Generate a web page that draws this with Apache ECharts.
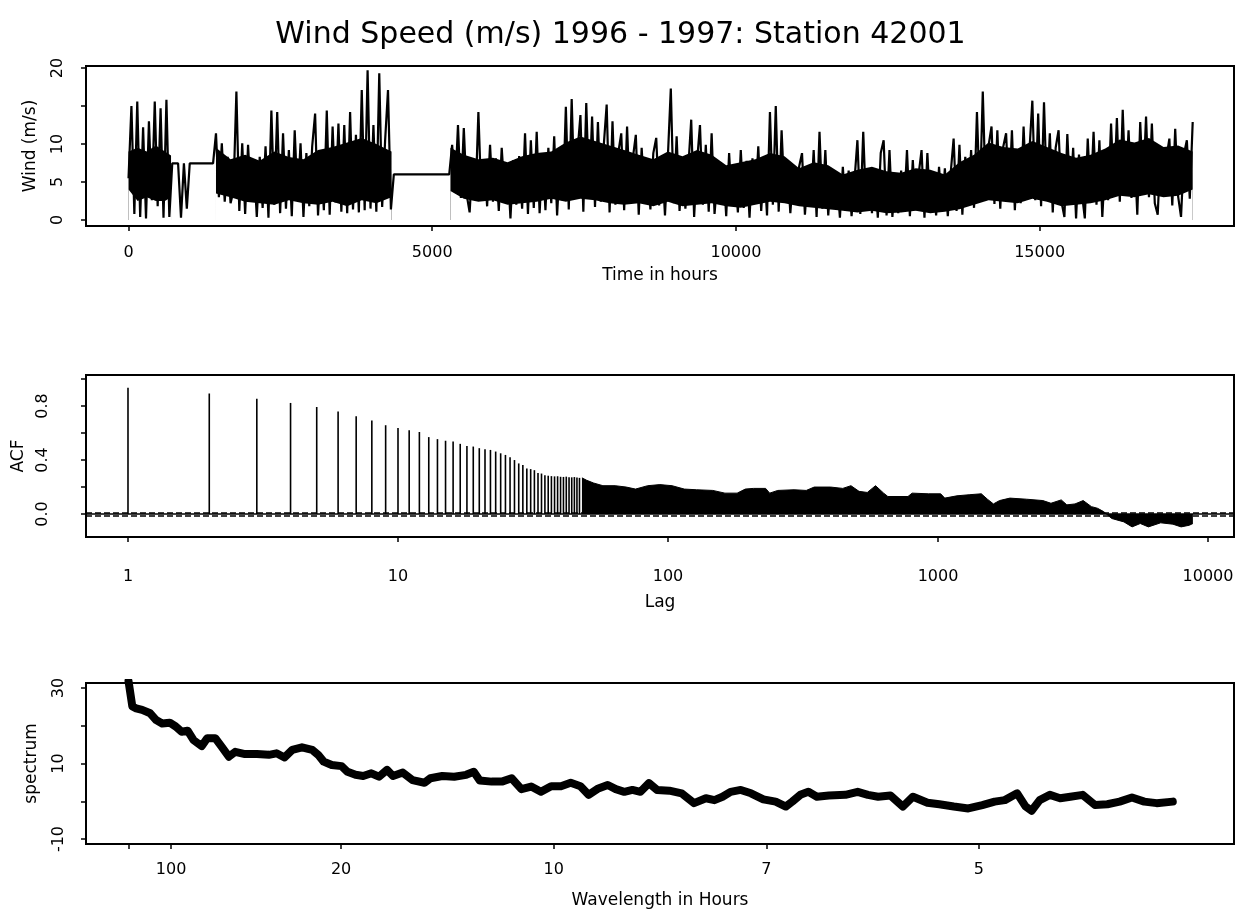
<!DOCTYPE html>
<html>
<head>
<meta charset="utf-8">
<title>Wind Speed (m/s) 1996 - 1997: Station 42001</title>
<script src="https://cdn.jsdelivr.net/npm/echarts@6/dist/echarts.min.js"></script>
<style>
  html, body { margin: 0; padding: 0; background: #fff; }
  #canvas { width: 1241px; height: 913px; }
</style>
</head>
<body>
<div id="canvas"></div>
<script>
/* eslint-disable no-undef */
// wind speed (m/s), one reading every 48 hours
const windStep = 48;
const windSpeed = [
  // 0 - 672 h
  5.5, 15.0, 0.8, 15.6, 0.4, 12.2, 0.2, 13.0, 2.6, 15.6, 1.8, 14.7, 0.3, 15.8, 0.4,
  // 720 - 1392 h, flat stretch
  7.45, 7.45, 7.45, 0.3, 7.45, 1.5, 7.45, 7.45, 7.45, 7.45, 7.45, 7.45, 7.45, 7.45, 7.45,
  // 1440 - 4320 h
  11.4, 3.0, 10.1, 2.4, 8.3, 2.2, 3.8, 16.9, 1.2, 10.1,
  0.8, 9.9, 2.4, 7.5, 0.4, 8.3, 1.6, 9.7, 0.3, 14.4,
  2.0, 14.2, 0.9, 11.4, 1.5, 9.2, 0.5, 11.8, 2.6, 10.1,
  0.4, 8.8, 1.8, 9.7, 14.0, 0.6, 8.3, 1.3, 14.4, 0.7,
  12.3, 2.3, 12.7, 1.1, 12.5, 0.9, 14.2, 1.4, 11.2, 1.0,
  17.1, 1.3, 19.7, 1.5, 12.5, 1.1, 19.3, 1.7, 10.4, 17.1,
  1.4,
  // 4368 - 5280 h, flat stretch
  6.0, 6.0, 6.0, 6.0, 6.0, 6.0, 6.0, 6.0, 6.0, 6.0,
  6.0, 6.0, 6.0, 6.0, 6.0, 6.0, 6.0, 6.0, 6.0, 6.0,
  // 5328 - 17520 h
  9.9, 3.7, 12.5, 2.9, 12.1, 3.3, 1.0, 7.9, 2.6, 14.2,
  3.0, 7.9, 1.8, 9.9, 2.4, 8.1, 1.2, 9.5, 3.4, 7.4,
  0.2, 7.9, 2.0, 8.4, 1.5, 11.4, 0.8, 10.5, 1.6, 11.6,
  0.9, 8.7, 1.3, 9.5, 2.2, 11.0, 0.6, 8.1, 2.5, 14.9,
  1.4, 15.9, 2.8, 9.0, 13.8, 1.1, 15.4, 3.2, 13.6, 1.7,
  12.9, 2.4, 9.8, 15.2, 1.0, 13.0, 2.0, 8.9, 11.4, 1.3,
  12.3, 2.1, 8.2, 11.2, 0.7, 9.5, 2.8, 7.6, 1.4, 8.8,
  10.8, 1.9, 7.9, 0.6, 8.4, 17.3, 2.2, 11.0, 1.2, 7.9,
  1.5, 6.9, 13.2, 0.4, 7.7, 12.5, 2.0, 9.9, 1.1, 11.4,
  0.8, 5.6, 2.3, 7.2, 0.5, 8.8, 1.9, 7.0, 1.0, 9.2,
  1.6, 7.8, 0.3, 8.1, 2.4, 9.7, 1.2, 7.5, 0.6, 14.2,
  2.0, 15.0, 1.1, 11.8, 3.0, 7.2, 0.9, 6.4, 2.1, 7.0,
  8.8, 0.7, 6.1, 1.8, 9.2, 0.4, 11.6, 1.5, 9.2, 0.6,
  6.1, 1.9, 5.7, 0.3, 7.0, 1.2, 6.5, 0.5, 5.2, 10.5,
  0.8, 11.6, 1.4, 5.9, 0.9, 6.5, 0.3, 8.8, 10.5, 0.6,
  9.2, 0.4, 5.8, 0.9, 6.5, 1.4, 9.2, 0.5, 7.9, 1.3,
  6.0, 9.2, 0.3, 8.8, 1.1, 5.4, 0.6, 7.0, 1.5, 6.8,
  0.5, 6.2, 10.7, 1.2, 9.9, 0.7, 8.3, 2.0, 9.2, 1.6,
  14.2, 2.8, 16.9, 3.4, 9.8, 12.3, 2.1, 11.8, 1.5, 9.6,
  11.4, 2.5, 11.8, 1.3, 8.9, 2.2, 12.3, 3.0, 9.1, 15.7,
  2.6, 14.0, 1.8, 15.5, 3.1, 11.4, 1.0, 9.5, 11.8, 2.4,
  0.4, 11.3, 2.9, 9.5, 0.2, 8.6, 3.5, 0.2, 10.7, 2.7,
  11.6, 2.0, 10.5, 0.4, 7.8, 2.6, 12.7, 3.3, 13.4, 2.4,
  14.5, 3.6, 11.8, 2.9, 9.4, 0.7, 12.9, 4.1, 13.6, 3.0,
  12.7, 2.2, 0.7, 9.5, 3.4, 8.2, 10.7, 1.9, 12.0, 3.1,
  0.4, 8.7, 10.5, 2.8, 12.9,
];
// the solid black core of the hourly trace (upper and lower edge), null = gap
const coreTime = [
  0, 150, 300, 450, 600, 700, 1000,
  1440, 1680, 1920, 2160, 2400, 2640, 2880, 3120, 3360, 3600, 3840, 4080, 4330, 4800,
  5300, 5520, 5760, 6000, 6240, 6480, 6720, 6960, 7200, 7440, 7680, 7920, 8160, 8400,
  8640, 8880, 9120, 9360, 9600, 9840, 10080, 10320, 10560, 10800, 11040, 11280, 11520, 11760,
  12000, 12240, 12480, 12720, 12960, 13200, 13440, 13680, 13920, 14160, 14400, 14640, 14880, 15120,
  15360, 15600, 15840, 16080, 16320, 16560, 16800, 17040, 17280, 17520,
];
const coreHigh = [
  9.0, 9.5, 9.0, 9.8, 9.0, 8.5, null,
  9.5, 8.0, 8.6, 7.8, 9.0, 8.3, 8.0, 9.2, 9.6, 10.2, 10.8, 10.0, 9.0, null,
  9.5, 8.6, 8.0, 8.2, 7.6, 8.4, 8.8, 9.0, 10.2, 11.0, 10.4, 9.8, 9.2, 8.6,
  8.0, 9.0, 8.4, 9.2, 8.6, 7.2, 7.6, 8.0, 8.8, 8.4, 6.8, 7.6, 7.2, 6.0,
  6.6, 7.0, 6.4, 6.2, 6.8, 6.6, 6.0, 7.6, 8.6, 10.2, 9.6, 9.4, 10.4, 9.6,
  8.8, 8.2, 8.6, 9.4, 10.6, 10.2, 10.8, 9.6, 9.8, 9.0,
];
const coreLow = [
  4.0, 2.5, 3.0, 2.5, 2.5, 3.0, null,
  3.5, 3.0, 2.4, 2.2, 2.0, 2.6, 2.2, 2.0, 2.4, 1.8, 2.6, 2.2, 3.0, null,
  3.8, 2.8, 2.4, 2.6, 2.0, 2.2, 2.4, 2.8, 2.4, 2.8, 2.6, 2.2, 2.0, 2.2,
  1.8, 2.4, 1.8, 2.0, 2.2, 1.8, 1.6, 2.0, 2.4, 2.2, 1.8, 1.6, 1.4, 1.2,
  1.0, 1.2, 0.9, 1.0, 1.2, 0.9, 1.1, 1.4, 2.0, 2.6, 2.4, 2.2, 2.8, 2.4,
  1.8, 2.0, 2.2, 2.6, 3.2, 3.0, 3.4, 3.0, 3.2, 4.0,
];

// autocorrelation, lags 1..47 drawn as spikes
const acfSpike = [
  0.935, 0.893, 0.855, 0.823, 0.793, 0.76, 0.725, 0.693, 0.658, 0.638,
  0.62, 0.608, 0.57, 0.555, 0.543, 0.538, 0.52, 0.505, 0.5, 0.488,
  0.48, 0.475, 0.463, 0.45, 0.438, 0.42, 0.4, 0.375, 0.363, 0.338,
  0.333, 0.325, 0.305, 0.3, 0.288, 0.284, 0.281, 0.279, 0.28, 0.276,
  0.275, 0.277, 0.273, 0.272, 0.274, 0.27, 0.268,
];
// beyond lag 47 the spikes merge: outline of the black mass
const acfEnvLag = [
  48, 50, 53, 57.4, 63.7, 70, 75.8, 84.1, 93.3, 103.5,
  114.9, 127.5, 146.5, 162.5, 180.3, 193.3, 207.1, 229.9, 238, 255,
  293, 325, 348, 400, 444, 476, 510, 547, 587, 629,
  652, 774, 802, 922, 1023, 1059, 1175, 1304, 1447, 1524,
  1604, 1690, 1846, 2124, 2445, 2620, 2860, 3000, 3216, 3449,
  3700, 3895, 4106, 4401, 4881, 5234, 5611, 6015, 6678, 7413,
  7950, 8520, 8790,
];
const acfEnvVal = [
  0.268, 0.25, 0.23, 0.21, 0.21, 0.2, 0.185, 0.21, 0.218, 0.21,
  0.185, 0.18, 0.175, 0.155, 0.155, 0.185, 0.19, 0.19, 0.155, 0.175,
  0.18, 0.175, 0.2, 0.2, 0.19, 0.21, 0.168, 0.16, 0.21, 0.155,
  0.13, 0.13, 0.155, 0.15, 0.15, 0.118, 0.135, 0.143, 0.15, 0.11,
  0.075, 0.1, 0.118, 0.11, 0.1, 0.08, 0.105, 0.068, 0.075, 0.1,
  0.055, 0.043, 0.018, -0.033, -0.058, -0.095, -0.07, -0.095, -0.065, -0.075,
  -0.095, -0.083, -0.07,
];
const acfBound = 0.0148; // 1.96 / sqrt(n)

// smoothed spectrum (dB) against frequency (cycles per hour)
const specFreq = [
  0, 0.0009, 0.0018, 0.0032, 0.0051, 0.0065, 0.0079, 0.0097, 0.0111, 0.0125,
  0.0139, 0.0153, 0.0172, 0.0185, 0.0204, 0.0218, 0.0236, 0.0251, 0.0274, 0.0302,
  0.033, 0.0348, 0.0367, 0.0385, 0.0408, 0.0432, 0.0446, 0.0459, 0.0478, 0.0501,
  0.0515, 0.0534, 0.0552, 0.0571, 0.0589, 0.0608, 0.0622, 0.0645, 0.0668, 0.0696,
  0.071, 0.0738, 0.0766, 0.0794, 0.0812, 0.0826, 0.0854, 0.0878, 0.0901, 0.0924,
  0.0947, 0.097, 0.0994, 0.1017, 0.104, 0.1063, 0.1082, 0.1105, 0.1127, 0.1146,
  0.1166, 0.1185, 0.1204, 0.1224, 0.1243, 0.1272, 0.1301, 0.133, 0.1358, 0.1378,
  0.1397, 0.1416, 0.144, 0.1464, 0.1493, 0.1522, 0.1546, 0.1561, 0.158, 0.1599,
  0.1619, 0.1647, 0.1686, 0.1715, 0.1739, 0.1763, 0.1792, 0.1821, 0.1845, 0.1879,
  0.1907, 0.1941, 0.1975, 0.2008, 0.2037, 0.2061, 0.209, 0.211, 0.2124, 0.2143,
  0.2167, 0.2191, 0.2215, 0.2244, 0.2273, 0.2302, 0.2331, 0.236, 0.2389, 0.2418,
  0.2456,
];
const specDb = [
  31.8, 25.1, 24.6, 24.2, 23.3, 21.5, 20.6, 20.8, 19.8, 18.4,
  18.7, 16.2, 14.6, 16.7, 16.7, 14.6, 11.8, 13.1, 12.5, 12.5,
  12.3, 12.7, 11.6, 13.6, 14.3, 13.6, 12.3, 10.5, 9.6, 9.3,
  7.8, 7.0, 6.7, 7.4, 6.5, 8.3, 6.7, 7.6, 5.6, 4.9,
  6.1, 6.7, 6.5, 7.0, 7.8, 5.5, 5.2, 5.2, 6.1, 3.2,
  3.9, 2.5, 4.0, 4.0, 4.9, 4.0, 1.7, 3.4, 4.3, 3.2,
  2.5, 3.0, 2.5, 4.8, 3.0, 2.8, 2.1, -0.5, 0.8, 0.3,
  1.2, 2.5, 3.0, 2.1, 0.5, -0.1, -1.4, -0.1, 1.7, 2.5,
  1.2, 1.5, 1.7, 2.5, 1.7, 1.2, 1.5, -1.4, 1.2, -0.4,
  -0.8, -1.4, -1.9, -1.0, -0.1, 0.3, 2.1, -1.4, -2.5, 0.3,
  1.7, 0.8, 1.2, 1.7, -1.0, -0.8, -0.1, 1.0, -0.1, -0.5,
  -0.1,
];

// axis ticks and labels
const timeTicks = [0, 5000, 10000, 15000];
const windTicks = [0, 5, 10, 15, 20];
const windLabels = [0, 5, 10, 20];
const lagTicks = [1, 10, 100, 1000, 10000];
const acfTicks = [0, 0.2, 0.4, 0.6, 0.8, 1.0];
const acfLabels = [0, 0.4, 0.8];
const freqTicks = [0, 0.01, 0.05, 0.1, 0.15, 0.2];
const freqLabels = [0.01, 0.05, 0.1, 0.15, 0.2]; // shown as wavelength 1/f
const specTicks = [-10, 0, 10, 20, 30];
const specLabels = [-10, 10, 30];

const font = 'DejaVu Sans';
const black = '#000';

function axisStyle(extra) {
  return Object.assign({
    axisLine: { show: false, onZero: false },
    splitLine: { show: false },
    nameLocation: 'middle',
    nameTextStyle: { fontFamily: font, fontSize: 17, color: black },
  }, extra);
}
function tick(values) {
  return { customValues: values, length: 5, lineStyle: { color: black, width: 1.5 } };
}
function label(values, margin, fmt, rotate) {
  return {
    customValues: values,
    margin,
    rotate: rotate || 0,
    fontFamily: font,
    fontSize: 16,
    color: black,
    formatter: fmt || ((v) => String(v)),
  };
}
const coreSeries = (values, fill) => ({
  type: 'line',
  xAxisIndex: 0,
  yAxisIndex: 0,
  symbol: 'none',
  connectNulls: false,
  lineStyle: { width: 0 },
  areaStyle: { color: fill, opacity: 1 },
  data: coreTime.map((t, i) => [t, values[i] == null ? '-' : values[i]]),
});
const box = { show: true, borderColor: black, borderWidth: 2, left: 86, width: 1148 };

const chart = echarts.init(document.getElementById('canvas'));

const option = {
  animation: false,
  title: {
    text: 'Wind Speed (m/s) 1996 - 1997: Station 42001',
    left: 'center',
    top: 15,
    textStyle: { fontFamily: font, fontSize: 30, fontWeight: 'normal', color: black },
  },
  grid: [
    Object.assign({ top: 66, height: 160 }, box),
    Object.assign({ top: 375, height: 162 }, box),
    Object.assign({ top: 683, height: 161 }, box),
  ],
  xAxis: [
    axisStyle({
      type: 'value', gridIndex: 0, min: -700, max: 18200,
      axisTick: tick(timeTicks), axisLabel: label(timeTicks, 19),
      name: 'Time in hours', nameGap: 41,
    }),
    axisStyle({
      type: 'log', logBase: 10, gridIndex: 1, min: 0.699, max: 12480,
      axisTick: tick(lagTicks), axisLabel: label(lagTicks, 32),
      name: 'Lag', nameGap: 57,
    }),
    axisStyle({
      type: 'value', gridIndex: 2, min: -0.01, max: 0.26,
      axisTick: tick(freqTicks), axisLabel: label(freqLabels, 18, (v) => String(Math.round(1 / v))),
      name: 'Wavelength in Hours', nameGap: 48,
    }),
  ],
  yAxis: [
    axisStyle({
      type: 'value', gridIndex: 0, min: -0.79, max: 20.26,
      axisTick: tick(windTicks), axisLabel: label(windLabels, 20, null, 90),
      name: 'Wind (m/s)', nameGap: 47,
    }),
    axisStyle({
      type: 'value', gridIndex: 1, min: -0.17, max: 1.03,
      axisTick: tick(acfTicks), axisLabel: label(acfLabels, 35, (v) => v.toFixed(1), 90),
      name: 'ACF', nameGap: 59,
    }),
    axisStyle({
      type: 'value', gridIndex: 2, min: -11.32, max: 31.32,
      axisTick: tick(specTicks), axisLabel: label(specLabels, 19, null, 90),
      name: 'spectrum', nameGap: 46,
    }),
  ],
  series: [
    coreSeries(coreHigh, black),
    coreSeries(coreLow, '#fff'),
    {
      type: 'line',
      xAxisIndex: 0,
      yAxisIndex: 0,
      symbol: 'none',
      lineStyle: { color: black, width: 2.2, join: 'bevel' },
      data: windSpeed.map((v, i) => [i * windStep, v]),
    },
    {
      type: 'custom',
      xAxisIndex: 1,
      yAxisIndex: 1,
      clip: true,
      data: acfSpike.map((v, i) => [i + 1, v]),
      renderItem(params, api) {
        const top = api.coord([api.value(0), api.value(1)]);
        const base = api.coord([api.value(0), 0]);
        return {
          type: 'line',
          shape: { x1: top[0], y1: top[1], x2: base[0], y2: base[1] },
          style: { stroke: black, lineWidth: 1.6 },
        };
      },
    },
    {
      type: 'line',
      xAxisIndex: 1,
      yAxisIndex: 1,
      symbol: 'none',
      lineStyle: { color: black, width: 1 },
      areaStyle: { color: black, opacity: 1 },
      data: acfEnvLag.map((lag, i) => [lag, acfEnvVal[i]]),
      markLine: {
        silent: true,
        symbol: ['none', 'none'],
        label: { show: false },
        data: [
          { yAxis: 0, lineStyle: { color: black, type: 'solid', width: 1.5 } },
          { yAxis: acfBound, lineStyle: { color: black, type: [6, 3], width: 1.5 } },
          { yAxis: -acfBound, lineStyle: { color: black, type: [6, 3], width: 1.5 } },
        ],
      },
    },
    {
      type: 'line',
      xAxisIndex: 2,
      yAxisIndex: 2,
      symbol: 'none',
      lineStyle: { color: black, width: 8, cap: 'round', join: 'round' },
      data: specFreq.map((f, i) => [f, specDb[i]]),
    },
  ],
};

chart.setOption(option);

window.onresize = chart.resize;
</script>
</body>
</html>
